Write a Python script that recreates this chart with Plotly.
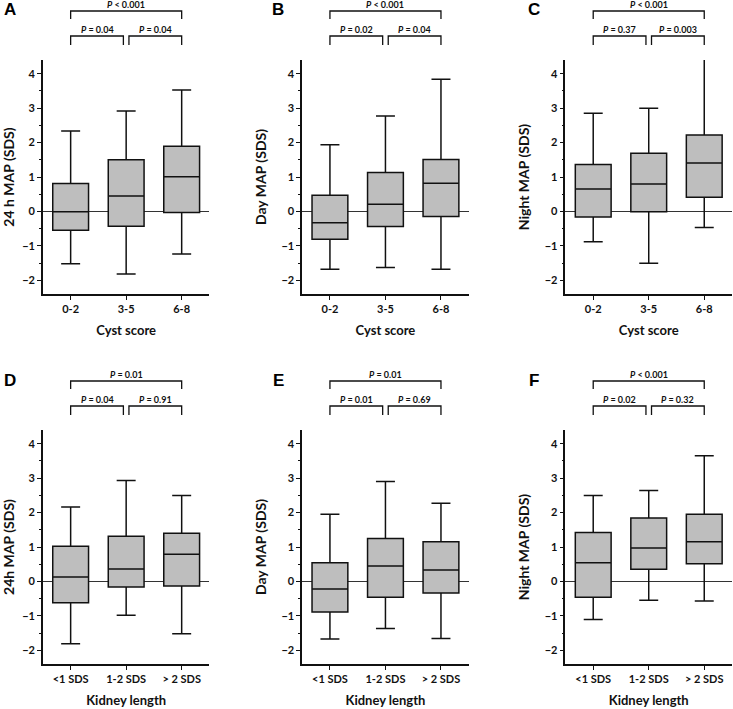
import plotly.graph_objects as go

cyst_groups = ["0-2", "3-5", "6-8"]
kidney_groups = ["<1 SDS", "1-2 SDS", "> 2 SDS"]

panel_letters = ["A", "B", "C", "D", "E", "F"]
y_titles = ["24 h MAP (SDS)", "Day MAP (SDS)", "Night MAP (SDS)",
            "24h MAP (SDS)", "Day MAP (SDS)", "Night MAP (SDS)"]
x_titles = ["Cyst score", "Kidney length"]

# box statistics per panel (A..F), one value per group
whisker_low = [[-1.52, -1.82, -1.24], [-1.68, -1.63, -1.68], [-0.88, -1.51, -0.47],
               [-1.81, -0.98, -1.52], [-1.67, -1.37, -1.66], [-1.11, -0.55, -0.57]]
q1 = [[-0.55, -0.43, -0.03], [-0.81, -0.44, -0.15], [-0.16, -0.01, 0.41],
      [-0.62, -0.16, -0.13], [-0.89, -0.46, -0.34], [-0.46, 0.35, 0.51]]
median = [[-0.01, 0.45, 1.01], [-0.33, 0.21, 0.82], [0.65, 0.80, 1.41],
          [0.13, 0.36, 0.79], [-0.22, 0.45, 0.33], [0.54, 0.97, 1.15]]
q3 = [[0.81, 1.50, 1.89], [0.47, 1.13, 1.51], [1.36, 1.69, 2.22],
      [1.02, 1.31, 1.40], [0.54, 1.25, 1.15], [1.42, 1.84, 1.95]]
whisker_high = [[2.34, 2.92, 3.53], [1.94, 2.77, 3.84], [2.85, 3.00, 4.48],
                [2.16, 2.93, 2.50], [1.95, 2.90, 2.27], [2.50, 2.64, 3.65]]

# p-values: first vs second, second vs third, first vs third
p_low_mid = ["= 0.04", "= 0.02", "= 0.37", "= 0.04", "= 0.01", "= 0.02"]
p_mid_high = ["= 0.04", "= 0.04", "= 0.003", "= 0.91", "= 0.69", "= 0.32"]
p_low_high = ["< 0.001", "< 0.001", "< 0.001", "= 0.01", "= 0.01", "< 0.001"]

W, H = 733, 709
col_px = [(41, 208), (301, 468), (565, 732)]
row_px = [(60, 294), (430, 664)]

LBL = "Lato"
fig = go.Figure()
shapes = []
annotations = []

def xdom(cat_pos):
    return (cat_pos + 0.5) / 3

for i in range(6):
    r, c = divmod(i, 3)
    n = i + 1
    sfx = "" if n == 1 else str(n)
    cats = cyst_groups if r == 0 else kidney_groups

    fig.add_trace(go.Box(
        x=cats, q1=q1[i], median=median[i], q3=q3[i],
        lowerfence=whisker_low[i], upperfence=whisker_high[i],
        xaxis="x" + sfx, yaxis="y" + sfx,
        fillcolor="#bebebe", line=dict(color="#111111", width=1.5),
        width=0.645, whiskerwidth=0.53, boxpoints=False,
        showlegend=False, hoverinfo="skip",
    ))

    x0, x1 = col_px[c]
    y0, y1 = row_px[r]
    fig.update_layout(**{
        "xaxis" + sfx: dict(
            domain=[x0 / W, x1 / W], anchor="y" + sfx, type="category",
            range=[-0.5, 2.5], showline=True, linecolor="#111111", linewidth=1.5,
            ticks="outside", ticklen=4, tickwidth=1.2, tickcolor="#111111",
            showgrid=False, zeroline=False,
            tickfont=dict(family=LBL, size=11, color="#111111", weight="bold"),
            title=dict(text=x_titles[r], standoff=12,
                       font=dict(family=LBL, size=13, color="#111111", weight="bold")),
        ),
        "yaxis" + sfx: dict(
            domain=[1 - y1 / H, 1 - y0 / H], anchor="x" + sfx,
            range=[-2.4, 4.4], tickvals=[-2, -1, 0, 1, 2, 3, 4],
            showline=True, linecolor="#111111", linewidth=1.5,
            ticks="outside", ticklen=4, tickwidth=1.2, tickcolor="#111111",
            minor=dict(dtick=0.5, tick0=0, ticks="outside", ticklen=2, tickcolor="#111111", showgrid=False),
            showgrid=False, zeroline=True, zerolinecolor="#333333", zerolinewidth=1,
            tickfont=dict(family=LBL, size=11, color="#111111", weight="bold"),
            title=dict(text=y_titles[i], standoff=12,
                       font=dict(family=LBL, size=14, color="#111111", weight="bold")),
        ),
    })

    h = y1 - y0

    def yd(px):
        return (y1 - px) / h

    off = 0 if r == 0 else 370
    xr = "x" + sfx + " domain"
    yr = "y" + sfx + " domain"
    brackets = [
        (0, 2, 11 + off, 19 + off, p_low_high[i], 4.5 + off),
        (0, 0.95, 36 + off, 45 + off, p_low_mid[i], 29.5 + off),
        (1.05, 2, 36 + off, 45 + off, p_mid_high[i], 29.5 + off),
    ]
    for a, b, yl, yb, ptxt, yt in brackets:
        xa, xb = xdom(a), xdom(b)
        shapes.append(dict(
            type="path", xref=xr, yref=yr,
            path=f"M {xa},{yd(yb)} L {xa},{yd(yl)} L {xb},{yd(yl)} L {xb},{yd(yb)}",
            line=dict(color="#111111", width=1.3),
        ))
        annotations.append(dict(
            xref=xr, yref=yr, x=(xa + xb) / 2, y=yd(yt),
            text=f"<i>P</i> {ptxt}", showarrow=False,
            font=dict(family=LBL, size=9, color="#111111", weight="bold"),
            xanchor="center", yanchor="middle",
        ))

    lx = [8, 277, 533][c]
    ly = 10 + off
    annotations.append(dict(
        xref="paper", yref="paper", x=lx / W, y=1 - ly / H,
        text=panel_letters[i], showarrow=False,
        font=dict(family="Liberation Sans", size=17, color="#000000", weight="bold"),
        xanchor="center", yanchor="middle",
    ))

fig.update_layout(
    width=W, height=H, margin=dict(l=0, r=0, t=0, b=0),
    plot_bgcolor="white", paper_bgcolor="white",
    shapes=shapes, annotations=annotations,
)

fig.write_html("out.html", config={"displayModeBar": False},
               post_script="document.body.style.margin='0';")
